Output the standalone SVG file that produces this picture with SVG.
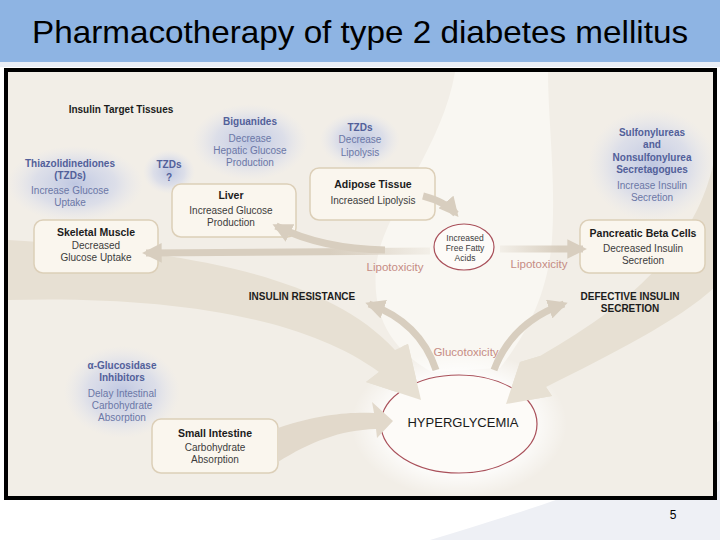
<svg xmlns="http://www.w3.org/2000/svg" width="720" height="540" viewBox="0 0 720 540">
<defs>
<style>
text{font-family:"Liberation Sans",Arial,sans-serif;text-anchor:middle}
.title{font-size:32px;fill:#000;text-anchor:start}
.h{font-size:10.5px;font-weight:bold;fill:#1c1c1c}
.b{font-size:10px;fill:#3c3c3c}
.dh{font-size:10px;font-weight:bold;fill:#52609a}
.db{font-size:10px;fill:#6b77a6}
.pk{font-size:11.5px;fill:#c68c84}
.cap{font-size:10px;font-weight:bold;fill:#1c1c1c}
.box{fill:#faf6ee;stroke:#dccfb8;stroke-width:1.5}
.oval{fill:#fdfbf8;stroke:#a9505a;stroke-width:1.2}
.arr{fill:none;stroke:#d8cebf;stroke-width:7}
.band{fill:#e7e0d3}
</style>
<radialGradient id="glow">
<stop offset="0" stop-color="#b9c3e1" stop-opacity="0.9"/>
<stop offset="0.6" stop-color="#cbd2ea" stop-opacity="0.55"/>
<stop offset="1" stop-color="#dfe3f0" stop-opacity="0"/>
</radialGradient>
<radialGradient id="wglow">
<stop offset="0.6" stop-color="#ffffff" stop-opacity="1"/>
<stop offset="1" stop-color="#ffffff" stop-opacity="0"/>
</radialGradient>
<linearGradient id="fadeL" gradientUnits="userSpaceOnUse" x1="430" y1="0" x2="330" y2="0">
<stop offset="0" stop-color="#d8cebf" stop-opacity="0.2"/>
<stop offset="1" stop-color="#d8cebf" stop-opacity="1"/>
</linearGradient>
<linearGradient id="fadeR" gradientUnits="userSpaceOnUse" x1="500" y1="0" x2="560" y2="0">
<stop offset="0" stop-color="#d8cebf" stop-opacity="0.2"/>
<stop offset="1" stop-color="#d8cebf" stop-opacity="1"/>
</linearGradient>
<marker id="head" viewBox="0 0 10 10" refX="8" refY="5" markerWidth="2.8" markerHeight="2.8" orient="auto">
<path d="M0,0 L10,5 L0,10 z" fill="#d8cebf"/>
</marker>
<clipPath id="inner"><rect x="8" y="72" width="707" height="424"/></clipPath>
</defs>

<!-- slide -->
<rect x="0" y="0" width="720" height="540" fill="#ffffff"/>
<path d="M430,540 C560,500 660,470 720,420 L720,540 Z" fill="#eef0f5"/>
<rect x="0" y="0" width="720" height="62" fill="#8eb4e3"/>
<rect x="0" y="62" width="720" height="5" fill="#e9eef6"/>
<text class="title" x="32" y="43" textLength="656" lengthAdjust="spacingAndGlyphs">Pharmacotherapy of type 2 diabetes mellitus</text>
<text x="673" y="519" style="font-size:12px;fill:#000">5</text>

<!-- diagram background and swooshes -->
<g id="background" clip-path="url(#inner)">
<rect x="8" y="72" width="707" height="424" fill="#f2eee7"/>
<path d="M455,72 C442,150 380,215 376,268 C372,318 392,350 432,372 L500,368 C530,330 548,290 552,240 C556,180 548,120 548,72 Z" fill="#f9f7f2"/>
<ellipse cx="459" cy="424" rx="108" ry="74" fill="url(#wglow)"/>
<path class="band" d="M8,240 C160,250 320,268 395,350 L408,344 L421,400 L366,382 L379,372 C300,314 160,296 8,300 Z"/>
<path class="band" d="M716,150 C700,250 620,310 540,356 L520,362 L506,404 L552,396 L546,387 C610,355 680,320 716,286 Z"/>
<ellipse cx="75" cy="184" rx="68" ry="38" fill="url(#glow)"/>
<ellipse cx="250" cy="142" rx="58" ry="38" fill="url(#glow)"/>
<ellipse cx="169" cy="172" rx="26" ry="22" fill="url(#glow)"/>
<ellipse cx="360" cy="140" rx="40" ry="28" fill="url(#glow)"/>
<ellipse cx="652" cy="165" rx="64" ry="56" fill="url(#glow)"/>
<ellipse cx="122" cy="392" rx="58" ry="46" fill="url(#glow)"/>
</g>

<!-- Hyperglycemia node -->
<g id="hyperglycemia">
<ellipse class="oval" cx="459" cy="424" rx="78" ry="49"/>
<text x="463" y="427" style="font-size:13px;fill:#1a1a1a">HYPERGLYCEMIA</text>
</g>

<!-- labels -->
<g id="labels">
<text class="h" x="121" y="112.5" style="font-size:10px">Insulin Target Tissues</text>
<text class="pk" x="395" y="271">Lipotoxicity</text>
<text class="pk" x="539" y="268">Lipotoxicity</text>
<text class="cap" x="302" y="299.5">INSULIN RESISTANCE</text>
<text class="cap" x="630" y="299.5">DEFECTIVE INSULIN</text>
<text class="cap" x="630" y="311.5">SECRETION</text>
<text class="pk" x="466" y="356">Glucotoxicity</text>
</g>

<!-- drug annotations -->
<g id="biguanides">
<text class="dh" x="250" y="124.5">Biguanides</text>
<text class="db" x="250" y="141.5">Decrease</text>
<text class="db" x="250" y="153.5">Hepatic Glucose</text>
<text class="db" x="250" y="165.5">Production</text>
</g>
<g id="tzd-muscle">
<text class="dh" x="70" y="166.5">Thiazolidinediones</text>
<text class="dh" x="70" y="178.5">(TZDs)</text>
<text class="db" x="70" y="193.5">Increase Glucose</text>
<text class="db" x="70" y="205.5">Uptake</text>
</g>
<g id="tzd-liver">
<text class="dh" x="169" y="167.5">TZDs</text>
<text class="dh" x="169" y="180.5">?</text>
</g>
<g id="tzd-adipose">
<text class="dh" x="360" y="130.5">TZDs</text>
<text class="db" x="360" y="142.5">Decrease</text>
<text class="db" x="360" y="155.5">Lipolysis</text>
</g>
<g id="sulfonylureas">
<text class="dh" x="652" y="135.5">Sulfonylureas</text>
<text class="dh" x="652" y="147.5">and</text>
<text class="dh" x="652" y="160.5">Nonsulfonylurea</text>
<text class="dh" x="652" y="172.5">Secretagogues</text>
<text class="db" x="652" y="188.5">Increase Insulin</text>
<text class="db" x="652" y="200.5">Secretion</text>
</g>
<g id="glucosidase">
<text class="dh" x="122" y="368.5">α-Glucosidase</text>
<text class="dh" x="122" y="380.5">Inhibitors</text>
<text class="db" x="122" y="396.5">Delay Intestinal</text>
<text class="db" x="122" y="408.5">Carbohydrate</text>
<text class="db" x="122" y="420.5">Absorption</text>
</g>

<!-- tissue nodes -->
<g id="skeletal-muscle">
<rect class="box" x="34" y="220" width="124" height="53" rx="9"/>
<text class="h" x="96" y="235.5">Skeletal Muscle</text>
<text class="b" x="96" y="248.5">Decreased</text>
<text class="b" x="96" y="260.5">Glucose Uptake</text>
</g>
<g id="liver">
<rect class="box" x="172" y="184" width="124" height="53" rx="9"/>
<text class="h" x="231" y="198.5">Liver</text>
<text class="b" x="231" y="213.5">Increased Glucose</text>
<text class="b" x="231" y="225.5">Production</text>
</g>
<g id="adipose">
<rect class="box" x="310" y="168" width="125" height="52" rx="9"/>
<text class="h" x="373" y="188">Adipose Tissue</text>
<text class="b" x="373" y="204">Increased Lipolysis</text>
</g>
<g id="ffa">
<ellipse class="oval" cx="464" cy="247" rx="30" ry="23"/>
<text x="465" y="241" style="font-size:8.5px;fill:#3c3c3c">Increased</text>
<text x="465" y="251" style="font-size:8.5px;fill:#3c3c3c">Free Fatty</text>
<text x="465" y="261" style="font-size:8.5px;fill:#3c3c3c">Acids</text>
</g>
<g id="pancreatic">
<rect class="box" x="580" y="220" width="125" height="53" rx="9"/>
<text class="h" x="643" y="236.5">Pancreatic Beta Cells</text>
<text class="b" x="643" y="251.5">Decreased Insulin</text>
<text class="b" x="643" y="263.5">Secretion</text>
</g>
<g id="small-intestine">
<rect class="box" x="152" y="419" width="126" height="54" rx="9"/>
<text class="h" x="215" y="436.5">Small Intestine</text>
<text class="b" x="215" y="450.5">Carbohydrate</text>
<text class="b" x="215" y="462.5">Absorption</text>
</g>

<!-- connectors -->
<g id="connectors">
<path class="band" d="M403,346 L408,344 L421,400 L366,382 L379,372 Z"/>
<path class="band" d="M540,356 L520,362 L506,404 L552,396 L546,387 Z"/>
<path d="M278,428 C320,414 350,412 374,413 L372,402 L393,421 L377,438 L376,429 C340,430 310,442 278,462 Z" fill="#e2d9cb"/>
<path class="arr" d="M430,251 L146,253" style="stroke:url(#fadeL)" marker-end="url(#head)"/>
<path class="arr" d="M385,250 Q322,249 276,226" marker-end="url(#head)"/>
<path class="arr" d="M423,196 Q446,202 456,214" marker-end="url(#head)"/>
<path class="arr" d="M500,249 L583,249" style="stroke:url(#fadeR)" marker-end="url(#head)"/>
<path class="arr" d="M436,370 Q420,322 369,304" marker-end="url(#head)"/>
<path class="arr" d="M494,370 Q512,322 564,304" marker-end="url(#head)"/>
</g>

<!-- frame -->
<rect x="6" y="70" width="709" height="428" fill="none" stroke="#000" stroke-width="4"/>
</svg>
